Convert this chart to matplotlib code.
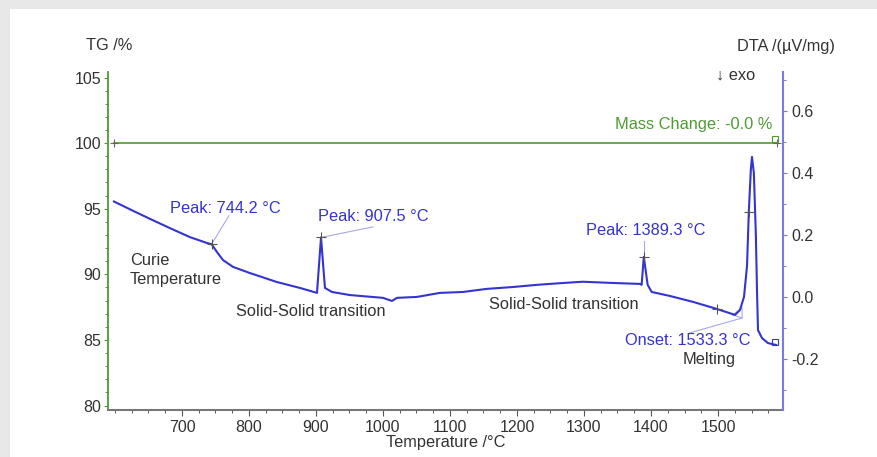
import matplotlib
matplotlib.use("Agg")
import matplotlib.pyplot as plt
from matplotlib.patches import Rectangle
from matplotlib.ticker import MultipleLocator

plt.rcParams['font.family'] = ['Liberation Sans', 'DejaVu Sans']

# ---- data ----
dta_temp = [598.5, 626.9, 652.2, 682.1, 711.9, 737.3, 744.2, 752.2, 761.2, 776.1, 801.5, 841.8,
            876.1, 901.5, 907.5, 913.4, 923.9, 950.7, 1000.0, 1013.4, 1020.9, 1050.7, 1085.0,
            1119.4, 1155.2, 1194.0, 1229.9, 1268.7, 1298.5, 1343.3, 1383.6, 1386.0, 1389.3,
            1395.0, 1401.0, 1428.4, 1462.7, 1498.5, 1525.4, 1532.8, 1538.8, 1543.3, 1546.0,
            1549.0, 1550.7, 1553.5, 1556.5, 1558.2, 1559.7, 1565.7, 1574.6, 1586.6]
dta_val = [0.308, 0.278, 0.252, 0.222, 0.193, 0.174, 0.170, 0.145, 0.119, 0.097, 0.077, 0.048,
           0.029, 0.013, 0.192, 0.029, 0.016, 0.006, -0.003, -0.013, -0.003, 0.000, 0.013,
           0.016, 0.026, 0.032, 0.039, 0.045, 0.049, 0.045, 0.042, 0.039, 0.129,
           0.039, 0.016, 0.003, -0.016, -0.039, -0.058, -0.042, 0.000, 0.100, 0.275,
           0.410, 0.452, 0.400, 0.200, 0.020, -0.107, -0.133, -0.149, -0.155]
tg_temp = [598.5, 1588.0]
tg_val = [100.0, 100.0]

peak_temps = [744.2, 907.5, 1389.3]
peak_vals = [0.170, 0.192, 0.129]
peak_labels = ["Peak: 744.2 °C", "Peak: 907.5 °C", "Peak: 1389.3 °C"]
onset_label = "Onset: 1533.3 °C"
mass_label = "Mass Change: -0.0 %"

x_ticks = [700, 800, 900, 1000, 1100, 1200, 1300, 1400, 1500]
tg_ticks = [80, 85, 90, 95, 100, 105]
dta_ticks = [-0.2, 0.0, 0.2, 0.4, 0.6]

# ---- styling ----
W, H = 877, 457
GREEN = '#4f9a34'
BLUE = '#3434d0'
AXBLUE = '#7a7ae6'
TXT = '#333333'
FS = 11.8
TFS = 11.5

fig = plt.figure(figsize=(W / 100, H / 100), dpi=100)
fig.patch.set_facecolor('#e8e8e8')
fig.add_artist(Rectangle((10 / W, 0), 1 - 10 / W, 1 - 9 / H, transform=fig.transFigure,
                         facecolor='white', edgecolor='none', zorder=0))

def fx(px):
    return px / W

def fy(py):
    return 1 - py / H

ax = fig.add_axes([fx(108), fy(410), (783 - 108) / W, (410 - 72) / H])
ax.set_facecolor('none')
ax2 = ax.twinx()

ax.set_xlim(589.6, 1597)
ax.set_ylim(79.66, 105.42)
ax2.set_ylim(-0.365, 0.726)

# TG
ax.plot(tg_temp, tg_val, color=GREEN, lw=1.2, zorder=3)
ax.plot(tg_temp, tg_val, ls='none', marker='+', ms=6, mew=0.8, color='#666666', zorder=4)
ax.plot([tg_temp[1] - 3], [tg_val[1] + 0.35], ls='none', marker='s', ms=5, mfc='none',
        mec=GREEN, mew=0.8, zorder=4)
ax.text(1581, 101.45, mass_label, color=GREEN, fontsize=FS, ha='right', va='center')

# DTA
ax2.plot(dta_temp, dta_val, color=BLUE, lw=1.5, zorder=3)
ax2.plot([dta_temp[-1] - 2], [dta_val[-1] + 0.01], ls='none', marker='s', ms=5, mfc='none',
         mec=BLUE, mew=0.8, zorder=4)

# peak markers + leaders
leader = '#a8a8e8'
leader_end = [(770, 0.262), (985, 0.226), (1389.3, 0.182)]
for t, v, (ex, ey) in zip(peak_temps, peak_vals, leader_end):
    ax2.plot([t, ex], [v, ey], color=leader, lw=0.8, zorder=2)
    ax2.plot([t], [v], ls='none', marker='+', ms=7, mew=0.8, color='#555555', zorder=4)
ax2.text(682.1, 0.284, peak_labels[0], color=BLUE, fontsize=FS, ha='left', va='center')
ax2.text(903, 0.258, peak_labels[1], color=BLUE, fontsize=FS, ha='left', va='center')
ax2.text(1392.5, 0.216, peak_labels[2], color=BLUE, fontsize=FS, ha='center', va='center')

# onset construction
ax2.plot([1498.5], [-0.039], ls='none', marker='+', ms=7, mew=0.8, color='#555555', zorder=4)
ax2.plot([1546.0], [0.275], ls='none', marker='+', ms=7, mew=0.8, color='#555555', zorder=4)
ax2.plot([1522, 1536, 1536, 1522], [-0.058, -0.068, -0.035, -0.058], color=leader, lw=0.8, zorder=2)
ax2.plot([1536, 1458], [-0.068, -0.116], color=leader, lw=0.8, zorder=2)
ax2.text(1455.2, -0.142, onset_label, color=BLUE, fontsize=FS, ha='center', va='center')

# black annotations
ax2.text(622.4, 0.119, "Curie", color=TXT, fontsize=FS, ha='left', va='center')
ax2.text(622.4, 0.055, "Temperature", color=TXT, fontsize=FS, ha='left', va='center')
ax2.text(780.6, -0.048, "Solid-Solid transition", color=TXT, fontsize=FS, ha='left', va='center')
ax2.text(1158.2, -0.026, "Solid-Solid transition", color=TXT, fontsize=FS, ha='left', va='center')
ax2.text(1486.6, -0.203, "Melting", color=TXT, fontsize=FS, ha='center', va='center')

# axes styling
ax.spines['top'].set_visible(False)
ax2.spines['top'].set_visible(False)
ax.spines['left'].set_color(GREEN)
ax.spines['left'].set_linewidth(1.3)
ax2.spines['left'].set_visible(False)
ax2.spines['right'].set_color(AXBLUE)
ax2.spines['right'].set_linewidth(1.5)
ax.spines['right'].set_visible(False)
ax.spines['bottom'].set_color('#777777')
ax.spines['bottom'].set_linewidth(1.5)
ax2.spines['bottom'].set_visible(False)

ax.set_xticks(x_ticks)
ax.xaxis.set_minor_locator(MultipleLocator(25))
ax.set_yticks(tg_ticks)
ax.yaxis.set_minor_locator(MultipleLocator(1))
ax2.set_yticks(dta_ticks)
ax2.set_yticklabels([f"{v:.1f}" for v in dta_ticks])
ax2.yaxis.set_minor_locator(MultipleLocator(0.1))

ax.tick_params(axis='x', which='major', length=4, width=0.8, color='#555555',
               labelsize=TFS, labelcolor=TXT, pad=3)
ax.tick_params(axis='x', which='minor', length=2.5, width=0.7, color='#555555')
ax.tick_params(axis='y', which='major', length=3, width=0.8, color=GREEN,
               labelsize=TFS, labelcolor=TXT, pad=2)
ax.tick_params(axis='y', which='minor', length=2, width=0.7, color=GREEN)
ax2.tick_params(axis='y', which='major', length=3, width=0.8, color=AXBLUE,
                labelsize=TFS, labelcolor=TXT, pad=3)
ax2.tick_params(axis='y', which='minor', length=2, width=0.7, color=AXBLUE)

ax.set_xlabel("Temperature /°C", fontsize=FS, color=TXT, labelpad=0)

fig.text(fx(86), fy(46), "TG /%", fontsize=FS, color=TXT, ha='left', va='center')
fig.text(fx(835), fy(46), "DTA /(µV/mg)", fontsize=FS, color=TXT, ha='right', va='center')
fig.text(fx(716), fy(75), "↓ exo", fontsize=FS, color=TXT, ha='left', va='center',
         family=['Liberation Sans', 'DejaVu Sans'])

fig.savefig("out.png", dpi=100, facecolor=fig.get_facecolor())
